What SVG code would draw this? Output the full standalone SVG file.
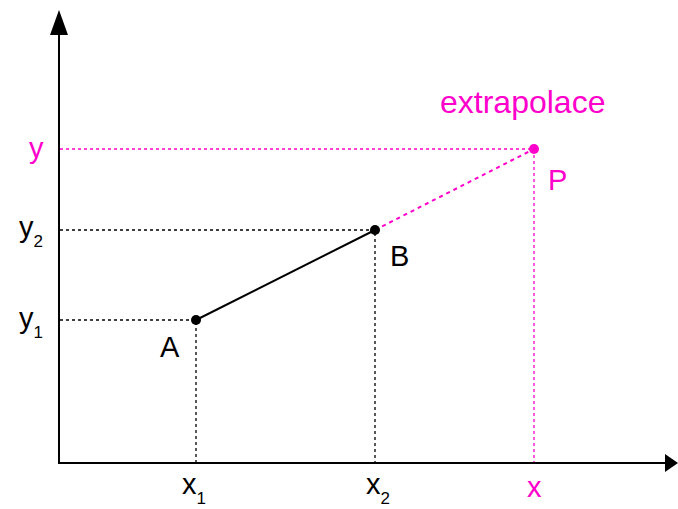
<svg xmlns="http://www.w3.org/2000/svg" width="678" height="509" viewBox="0 0 678 509">
<style>
text{font-family:"Liberation Sans",Arial,sans-serif;font-size:29px;fill:#000}
.m{fill:#ff00cc}
.big{font-size:32px}
.sub{font-size:17px}
.dot{stroke:#000;stroke-width:1.3;stroke-dasharray:3,3;fill:none}
.mdot{stroke:#ff00cc;stroke-width:1.3;stroke-dasharray:3,3;fill:none}
.mdot2{stroke:#ff00cc;stroke-width:2;stroke-dasharray:4,4;fill:none}
.axis{stroke:#000;stroke-width:2;fill:none}
</style>
<rect width="678" height="509" fill="#fff"/>
<g id="connectors">
<path class="dot" d="M60 320H196V463"/>
<path class="dot" d="M60 230H375V463"/>
<path class="mdot" d="M60 149H534V463"/>
<line x1="196" y1="320" x2="375" y2="230" stroke="#000" stroke-width="2"/>
<line class="mdot2" x1="375" y1="230" x2="534" y2="149"/>
</g>
<g id="axes">
<line class="axis" x1="59" y1="464" x2="59" y2="32"/>
<polygon points="59,10 50,35 68,35" fill="#000"/>
<line class="axis" x1="58" y1="463" x2="666" y2="463"/>
<polygon points="678,463 665,454 665,472" fill="#000"/>
</g>
<g id="A"><circle cx="196" cy="320" r="5"/><text x="160" y="357">A</text></g>
<g id="B"><circle cx="375" cy="230" r="5"/><text x="390" y="266">B</text></g>
<g id="P"><circle cx="534" cy="149" r="5" fill="#ff00cc"/><text class="m" x="548" y="190">P</text></g>
<g id="labels">
<text class="m big" x="440" y="113">extrapolace</text>
<text class="m" x="29" y="158">y</text>
<text x="19" y="237">y<tspan class="sub" dy="10">2</tspan></text>
<text x="19" y="328">y<tspan class="sub" dy="10">1</tspan></text>
<text x="182" y="494">x<tspan class="sub" dy="10">1</tspan></text>
<text x="366" y="494">x<tspan class="sub" dy="10">2</tspan></text>
<text class="m" x="527" y="497">x</text>
</g>
</svg>
